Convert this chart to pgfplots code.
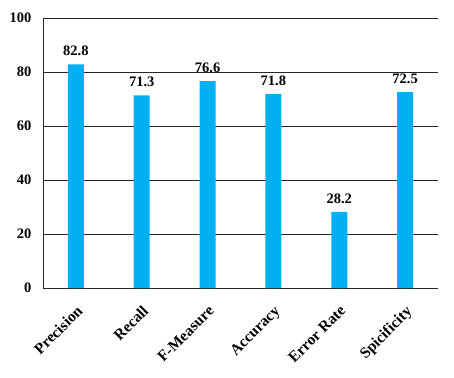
\documentclass[border=0pt]{standalone}
\usepackage{pgfplots}
\pgfplotsset{compat=1.18}
\usepackage{fontspec}
\setmainfont{Liberation Serif}
\definecolor{barblue}{HTML}{00B0F0}
\begin{document}
\begin{tikzpicture}
\path[use as bounding box] (-43bp,-90bp) rectangle (411bp,288bp);
\begin{axis}[
  at={(0,0)}, anchor=south west,
  scale only axis, width=395bp, height=270bp,
  xmin=-0.5, xmax=5.5, ymin=0, ymax=100,
  ytick={0,20,40,60,80,100},
  xtick={0,1,2,3,4,5},
  xticklabels={Precision,Recall,F-Measure,Accuracy,Error Rate,Spicificity},
  x tick label style={rotate=45, anchor=north east, font=\bfseries\fontsize{15.5bp}{17bp}\selectfont, inner sep=1pt, xshift=-10.7bp, yshift=-10.5bp},
  y tick label style={font=\bfseries\fontsize{14.5bp}{16bp}\selectfont, xshift=-8bp},
  /pgf/number format/assume math mode=true,
  ymajorgrids, grid style={black!85, line width=1pt},
  axis x line*=bottom, axis y line*=left,
  axis line style={black!85, line width=1pt},
  major tick length=0pt,
  tick style={draw=none},
  ybar, bar width=16bp,
  nodes near coords,
  nodes near coords style={font=\bfseries\fontsize{14.5bp}{16bp}\selectfont, black, yshift=5bp},
  every node near coord/.append style={/pgf/number format/.cd, fixed, fixed zerofill, precision=1, assume math mode=true},
]
\addplot[fill=barblue, draw=none] coordinates {(0,82.8) (1,71.3) (2,76.6) (3,71.8) (4,28.2) (5,72.5)};
\end{axis}
\end{tikzpicture}
\end{document}
